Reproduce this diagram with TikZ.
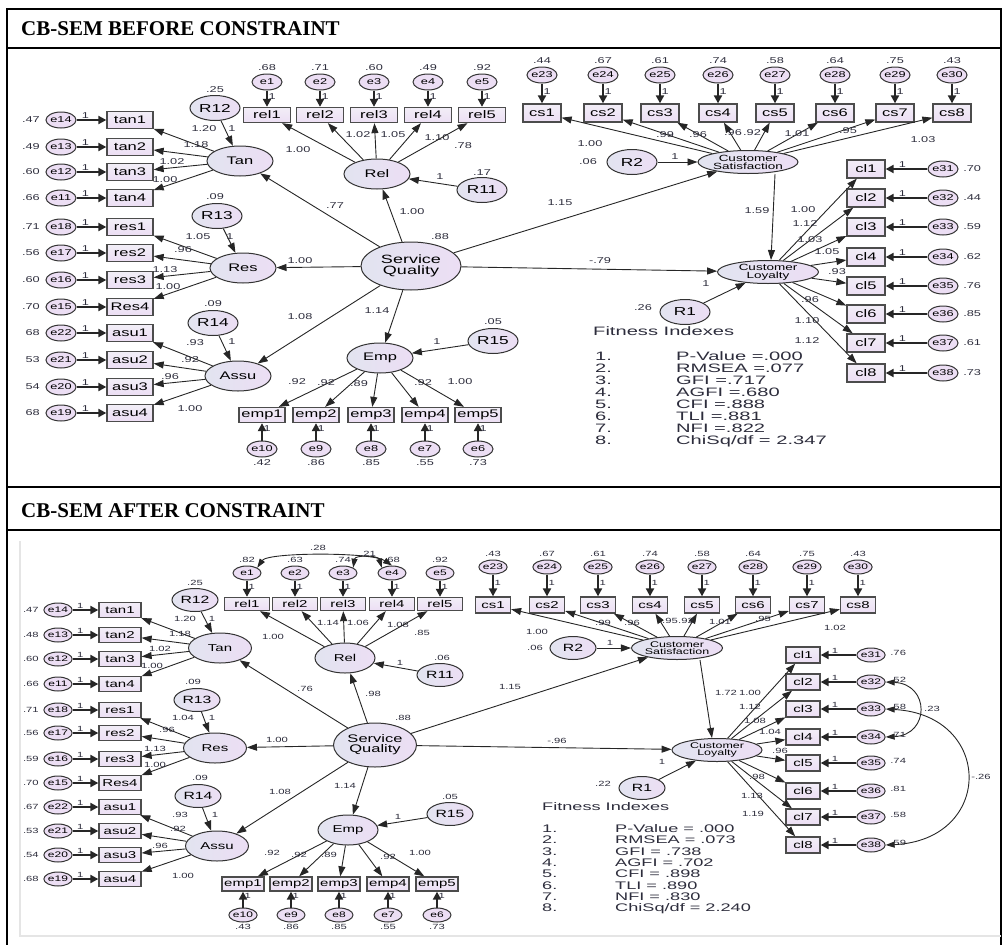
\documentclass[tikz,border=0pt]{standalone}
\usepackage{fontspec}
\setmainfont{Liberation Serif}
\newfontfamily\amos{Liberation Sans}[FakeStretch=1.5]
\newfontfamily\amoswide{Liberation Sans}[FakeStretch=1.65]
\usetikzlibrary{shapes.geometric,arrows.meta,positioning}
\newcommand\amosz[1]{\amos\fontsize{#1}{#1}\selectfont}

\definecolor{lav}{RGB}{236,222,244}
\definecolor{latl}{RGB}{226,228,240}
\definecolor{boxt}{RGB}{242,238,247}
\definecolor{txt}{RGB}{45,45,60}

\tikzset{
  lat/.style={ellipse, draw=black!80, line width=1pt, left color=latl, right color=lav, inner sep=0pt, align=center},
  obs/.style={rectangle, draw=black!70, line width=1.3pt, top color=boxt, bottom color=lav, inner sep=0pt},
  err/.style={ellipse, draw=black!80, line width=1pt, fill=lav, inner sep=0pt},
  arr/.style={draw=black!85, line width=0.9pt, -{Triangle[length=10pt,width=7pt]}},
  errpath/.style={draw=black!85, line width=2pt, -{Triangle[length=8pt,width=8pt]}},
  cov/.style={draw=black!85, line width=0.9pt, {Triangle[length=9pt,width=6pt]}-{Triangle[length=9pt,width=6pt]}},
  head/.style={font=\bfseries\fontsize{21}{21}\selectfont, anchor=west, inner sep=0pt},
  % before constraint
  bnum/.style={font=\amosz{8.5}, text=txt, inner sep=0.5pt},
  bobs/.style={obs, font=\amosz{11}},
  berr/.style={err, font=\amosz{8.5}, minimum width=30pt, minimum height=16pt},
  blat/.style={lat, font=\amosz{11}},
  bres/.style={lat, font=\amosz{11.5}, minimum width=50pt, minimum height=25pt},
  bfit/.style={font=\amoswide\fontsize{12.2}{12.2}\selectfont, text=txt, anchor=west, inner sep=0pt, text height=8.5pt, text depth=1.5pt},
  % after constraint
  anum/.style={font=\amosz{7.5}, text=txt, inner sep=0.5pt},
  aobs/.style={obs, font=\amosz{10}},
  aerr/.style={err, font=\amosz{8}, minimum width=28pt, minimum height=14pt},
  alat/.style={lat, font=\amosz{10}},
  ares/.style={lat, font=\amosz{10.5}, minimum width=46pt, minimum height=23pt},
  afit/.style={font=\amoswide\fontsize{11}{11}\selectfont, text=txt, anchor=west, inner sep=0pt, text height=8pt, text depth=1.5pt},
}

\begin{document}
\begin{tikzpicture}[x=1pt,y=-1pt]
\useasboundingbox (0,0) rectangle (1004,945);

% frame and headers
\draw[line width=1.6pt] (7,946) -- (7,9) -- (1001,9) -- (1001,946);
\foreach \yy in {48,487,530}
  \draw[line width=1.6pt] (7,\yy) -- (1001,\yy);
\draw[black!10, line width=1.5pt] (20,541) -- (20,936) -- (1001,936);
\node[head] (hbefore) at (21,29) {CB-SEM BEFORE CONSTRAINT};
\node[head] (hafter) at (21,511) {CB-SEM AFTER CONSTRAINT};

%%%%%%%%%% before constraint
\foreach \n/\x/\y in {Tan/240/161, Res/243/268, Assu/238/376, Rel/377/174, Emp/380/358}
  \node[blat, minimum width=66pt, minimum height=30pt] (b\n) at (\x,\y) {\n};
\node[blat, minimum width=100pt, minimum height=48pt, font={\amos\fontsize{12}{11}\selectfont}] (bSQ) at (411,266) {Service\\Quality};
\node[blat, minimum width=100pt, minimum height=23pt, font={\amos\fontsize{9}{8}\selectfont}] (bCS) at (748,162) {Customer\\Satisfaction};
\node[blat, minimum width=101pt, minimum height=23pt, font={\amos\fontsize{9}{8}\selectfont}] (bCL) at (768,272) {Customer\\Loyalty};
\node[bnum] (bvSQ) at (440,237) {.88};

\foreach \n/\x/\y/\val/\vx/\vy in {R12/215/108/.25/215/90, R13/217/216/.09/215/197, R14/213/323/.09/213/304,
    R11/482/190/.17/482/173, R15/493/341/.05/493/322, R2/632/162/.06/588/162, R1/685/312/.26/643/308}{
  \node[bres] (b\n) at (\x,\y) {\n};
  \node[bnum] (bv\n) at (\vx,\vy) {\val};
}

% structural paths
\foreach \fr/\tg/\val/\x/\y in {SQ/Tan/.77/335/206, SQ/Rel/1.00/412/212, SQ/Res/1.00/300/261, SQ/Assu/1.08/300/317,
    SQ/Emp/1.14/377/311, SQ/CS/1.15/560/203, SQ/CL/-.79/600/261,
    R12/Tan/1/232/129, R13/Res/1/230/237, R14/Assu/1/232/342, R11/Rel/1/440/177,
    R15/Emp/1/437/342, R2/CS/1/675/157, R1/CL/1/706/284}{
  \draw[arr] (b\fr) -- (b\tg);
  \node[bnum] (bs\fr\tg) at (\x,\y) {\val};
}
\draw[arr] ([xshift=27pt]bCS.south) -- ([xshift=3pt]bCL.north);
\node[bnum] (bsCSCL) at (757,211) {1.59};

% indicators
\foreach \ind/\er/\val/\yy in {tan1/e14/.47/120, tan2/e13/.49/147, tan3/e12/.60/172, tan4/e11/.66/198,
    res1/e18/.71/227, res2/e17/.56/253, res3/e16/.60/280, Res4/e15/.70/307,
    asu1/e22/68/333, asu2/e21/53/360, asu3/e20/54/387, asu4/e19/68/413}{
  \node[bobs, minimum width=46pt, minimum height=17pt] (b\ind) at (130,\yy) {\ind};
  \node[berr] (b\er) at (61,\yy) {\er};
  \node[bnum, left=5pt of b\er] (bv\er) {\val};
  \draw[errpath] (b\er) -- node[bnum, above=0pt, pos=0.3] {1} (b\ind);
}
\foreach \ind/\er/\val/\xx in {rel1/e1/.68/267, rel2/e2/.71/320, rel3/e3/.60/374, rel4/e4/.49/428, rel5/e5/.92/482}{
  \node[bobs, minimum width=47pt, minimum height=15pt] (b\ind) at (\xx,115) {\ind};
  \node[berr] (b\er) at (\xx,82) {\er};
  \node[bnum, above=2pt of b\er] (bv\er) {\val};
  \draw[errpath] (b\er) -- node[bnum, right=0pt, pos=0.4] {1} (b\ind);
}
\foreach \ind/\er/\val/\xx in {cs1/e23/.44/542, cs2/e24/.67/603, cs3/e25/.61/660, cs4/e26/.74/718,
    cs5/e27/.58/775, cs6/e28/.64/835, cs7/e29/.75/895, cs8/e30/.43/952}{
  \node[bobs, minimum width=38pt, minimum height=18pt] (b\ind) at (\xx,113) {\ind};
  \node[berr] (b\er) at (\xx,75) {\er};
  \node[bnum, above=2pt of b\er] (bv\er) {\val};
  \draw[errpath] (b\er) -- node[bnum, right=0pt, pos=0.4] {1} (b\ind);
}
\foreach \ind/\er/\val/\yy in {cl1/e31/.70/169, cl2/e32/.44/198, cl3/e33/.59/227, cl4/e34/.62/257,
    cl5/e35/.76/286, cl6/e36/.85/314, cl7/e37/.61/343, cl8/e38/.73/373}{
  \node[bobs, minimum width=38pt, minimum height=18pt] (b\ind) at (866,\yy) {\ind};
  \node[berr] (b\er) at (943,\yy) {\er};
  \node[bnum, right=4pt of b\er] (bv\er) {\val};
  \draw[errpath] (b\er) -- node[bnum, above=0pt, pos=0.6] {1} (b\ind);
}
\foreach \ind/\er/\val/\xx in {emp1/e10/.42/262, emp2/e9/.86/316, emp3/e8/.85/371, emp4/e7/.55/425, emp5/e6/.73/478}{
  \node[bobs, minimum width=46pt, minimum height=15pt] (b\ind) at (\xx,415) {\ind};
  \node[berr] (b\er) at (\xx,449) {\er};
  \node[bnum, below=1pt of b\er] (bv\er) {\val};
  \draw[errpath] (b\er) -- node[bnum, right=0pt, pos=0.7] {1} (b\ind);
}

% loadings
\foreach \fr/\tg/\val/\x/\y in {
    Tan/tan1/1.20/204/129, Tan/tan2/1.18/196/145, Tan/tan3/1.02/172/162, Tan/tan4/1.00/165/180,
    Res/res1/1.05/198/237, Res/res2/.96/183/250, Res/res3/1.13/165/270, Res/Res4/1.00/168/287,
    Assu/asu1/.93/195/343, Assu/asu2/.92/190/360, Assu/asu3/.96/170/377, Assu/asu4/1.00/190/409,
    Rel/rel1/1.00/298/150, Rel/rel2/1.02/358/135, Rel/rel3/1.05/393/135, Rel/rel4/1.10/437/138, Rel/rel5/.78/463/146,
    Emp/emp1/.92/297/382, Emp/emp2/.92/326/383, Emp/emp3/.89/359/384, Emp/emp4/.92/423/383, Emp/emp5/1.00/460/382,
    CS/cs1/1.00/590/144, CS/cs2/.99/665/135, CS/cs3/.96/698/135, CS/cs4/.96/733/133,
    CS/cs5/.92/752/133, CS/cs6/1.01/797/134, CS/cs7/.95/848/131, CS/cs8/1.03/923/140,
    CL/cl1/1.00/803/210, CL/cl2/1.12/805/224, CL/cl3/1.03/810/240, CL/cl4/1.05/827/252,
    CL/cl5/.93/837/272, CL/cl6/.96/810/300, CL/cl7/1.10/807/321, CL/cl8/1.12/807/341}{
  \draw[arr] (b\fr) -- (b\tg);
  \node[bnum] (bl\tg) at (\x,\y) {\val};
}

% fit indices
\node[bfit] (bfittitle) at (593,332) {Fitness Indexes};
\foreach \txt [count=\i] in {{P-Value =.000}, {RMSEA =.077}, {GFI =.717}, {AGFI =.680},
    {CFI =.888}, {TLI =.881}, {NFI =.822}, {ChiSq/df = 2.347}}{
  \node[bfit] (bfn\i) at (595,{345+12*\i}) {\i.};
  \node[bfit] (bft\i) at (676,{345+12*\i}) {\txt};
}

%%%%%%%%%% after constraint
\foreach \n/\x/\y in {Tan/220/648, Res/215/748, Assu/217/846}
  \node[alat, minimum width=63pt, minimum height=30pt] (a\n) at (\x,\y) {\n};
\foreach \n/\x/\y in {Rel/345/658, Emp/348/830}
  \node[alat, minimum width=60pt, minimum height=30pt] (a\n) at (\x,\y) {\n};
\node[alat, minimum width=83pt, minimum height=44pt, font={\amos\fontsize{11}{10}\selectfont}] (aSQ) at (375,745) {Service\\Quality};
\node[alat, minimum width=87pt, minimum height=23pt, font={\amos\fontsize{8.3}{7.5}\selectfont}] (aCS) at (677,648) {Customer\\Satisfaction};
\node[alat, minimum width=90pt, minimum height=23pt, font={\amos\fontsize{8.3}{7.5}\selectfont}] (aCL) at (717,750) {Customer\\Loyalty};
\node[anum] (avSQ) at (403,718) {.88};

\foreach \n/\x/\y/\val/\vx/\vy in {R12/195/600/.25/195/583, R13/197/700/.09/193/682, R14/198/796/.09/200/778,
    R11/440/675/.06/442/658, R15/450/814/.05/450/797, R2/573/648/.06/535/648, R1/642/788/.22/603/784}{
  \node[ares] (a\n) at (\x,\y) {\n};
  \node[anum] (av\n) at (\vx,\vy) {\val};
}

% structural paths
\foreach \fr/\tg/\val/\x/\y in {SQ/Tan/.76/305/689, SQ/Rel/.98/373/694, SQ/Res/1.00/277/740, SQ/Assu/1.08/280/792,
    SQ/Emp/1.14/345/786, SQ/CS/1.15/510/687, SQ/CL/-.96/557/741,
    R12/Tan/1/212/619, R13/Res/1/212/718, R14/Assu/1/215/815, R11/Rel/1/400/663,
    R15/Emp/1/398/817, R2/CS/1/610/643, R1/CL/1/662/762}{
  \draw[arr] (a\fr) -- (a\tg);
  \node[anum] (as\fr\tg) at (\x,\y) {\val};
}
\draw[arr] ([xshift=23pt]aCS.south) -- ([xshift=-5pt]aCL.north);
\node[anum] (asCSCL) at (726,693) {1.72};

% indicators
\foreach \ind/\er/\val/\yy in {tan1/e14/.47/610, tan2/e13/.48/635, tan3/e12/.60/659, tan4/e11/.66/684,
    res1/e18/.71/710, res2/e17/.56/733, res3/e16/.59/759, Res4/e15/.70/783,
    asu1/e22/.67/807, asu2/e21/.53/831, asu3/e20/.54/855, asu4/e19/.68/879}{
  \node[aobs, minimum width=42pt, minimum height=15pt] (a\ind) at (120,\yy) {\ind};
  \node[aerr] (a\er) at (58,\yy) {\er};
  \node[anum, left=4pt of a\er] (av\er) {\val};
  \draw[errpath] (a\er) -- node[anum, above=0pt, pos=0.3] {1} (a\ind);
}
\foreach \ind/\er/\val/\xx in {rel1/e1/.82/247, rel2/e2/.63/295, rel3/e3/.74/343, rel4/e4/.68/392, rel5/e5/.92/440}{
  \node[aobs, minimum width=45pt, minimum height=13pt] (a\ind) at (\xx,604) {\ind};
  \node[aerr] (a\er) at (\xx,573) {\er};
  \node[anum, above=2pt of a\er] (av\er) {\val};
  \draw[errpath] (a\er) -- node[anum, right=0pt, pos=0.4] {1} (a\ind);
}
\foreach \ind/\er/\val/\xx in {cs1/e23/.43/493, cs2/e24/.67/547, cs3/e25/.61/598, cs4/e26/.74/650,
    cs5/e27/.58/702, cs6/e28/.64/753, cs7/e29/.75/807, cs8/e30/.43/858}{
  \node[aobs, minimum width=35pt, minimum height=16pt] (a\ind) at (\xx,605) {\ind};
  \node[aerr] (a\er) at (\xx,567) {\er};
  \node[anum, above=2pt of a\er] (av\er) {\val};
  \draw[errpath] (a\er) -- node[anum, right=0pt, pos=0.4] {1} (a\ind);
}
\foreach \ind/\er/\val/\yy in {cl1/e31/.76/655, cl2/e32/.52/682, cl3/e33/.58/709, cl4/e34/.71/737,
    cl5/e35/.74/763, cl6/e36/.81/791, cl7/e37/.58/817, cl8/e38/.59/845}{
  \node[aobs, minimum width=34pt, minimum height=16pt] (a\ind) at (803,\yy) {\ind};
  \node[aerr] (a\er) at (871,\yy) {\er};
  \node[anum, right=4pt of a\er, yshift=2pt] (av\er) {\val};
  \draw[errpath] (a\er) -- node[anum, above=0pt, pos=0.6] {1} (a\ind);
}
\foreach \ind/\er/\val/\xx in {emp1/e10/.43/243, emp2/e9/.86/291, emp3/e8/.85/339, emp4/e7/.55/388, emp5/e6/.73/437}{
  \node[aobs, minimum width=42pt, minimum height=14pt] (a\ind) at (\xx,884) {\ind};
  \node[aerr] (a\er) at (\xx,915) {\er};
  \node[anum, below=1pt of a\er] (av\er) {\val};
  \draw[errpath] (a\er) -- node[anum, right=0pt, pos=0.7] {1} (a\ind);
}

% loadings
\foreach \fr/\tg/\val/\x/\y in {
    Tan/tan1/1.20/185/619, Tan/tan2/1.18/180/634, Tan/tan3/1.02/160/649, Tan/tan4/1.00/152/666,
    Res/res1/1.04/183/718, Res/res2/.96/167/730, Res/res3/1.13/155/749, Res/Res4/1.00/155/765,
    Assu/asu1/.93/180/815, Assu/asu2/.92/178/829, Assu/asu3/.96/160/846, Assu/asu4/1.00/183/876,
    Rel/rel1/1.00/273/637, Rel/rel2/1.14/328/623, Rel/rel3/1.06/358/623, Rel/rel4/1.08/398/625, Rel/rel5/.85/422/633,
    Emp/emp1/.92/272/853, Emp/emp2/.92/299/855, Emp/emp3/.89/329/855, Emp/emp4/.92/388/857, Emp/emp5/1.00/420/853,
    CS/cs1/1.00/537/632, CS/cs2/.99/603/623, CS/cs3/.96/632/623, CS/cs4/.95/670/621,
    CS/cs5/.92/686/621, CS/cs6/1.01/720/622, CS/cs7/.95/763/619, CS/cs8/1.02/835/628,
    CL/cl1/1.00/750/693, CL/cl2/1.12/750/707, CL/cl3/1.08/755/721, CL/cl4/1.04/770/732,
    CL/cl5/.96/780/751, CL/cl6/.98/757/777, CL/cl7/1.13/752/796, CL/cl8/1.19/753/814}{
  \draw[arr] (a\fr) -- (a\tg);
  \node[anum] (al\tg) at (\x,\y) {\val};
}

% covariances
\draw[cov] (ae1.north east) .. controls (268,552) and (372,552) .. (ae4.north);
\draw[cov] (ae3.north east) .. controls (355,555) and (378,555) .. (ae4.north west);
\draw[cov] (ae32.east) .. controls (930,684) and (930,735) .. (ae34.east);
\draw[cov] (ae33.east) .. controls (994,715) and (994,840) .. (ae38.east);
\node[anum] (acv1) at (318,548) {.28};
\node[anum] (acv2) at (368,554) {.21};
\node[anum] (acv3) at (932,709) {.23};
\node[anum] (acv4) at (981,777) {-.26};

% fit indices
\node[afit] (afittitle) at (542,807) {Fitness Indexes};
\foreach \txt [count=\i] in {{P-Value = .000}, {RMSEA = .073}, {GFI = .738}, {AGFI = .702},
    {CFI = .898}, {TLI = .890}, {NFI = .830}, {ChiSq/df = 2.240}}{
  \node[afit] (afn\i) at (542,{818+11.3*\i}) {\i.};
  \node[afit] (aft\i) at (615,{818+11.3*\i}) {\txt};
}
\end{tikzpicture}
\end{document}
